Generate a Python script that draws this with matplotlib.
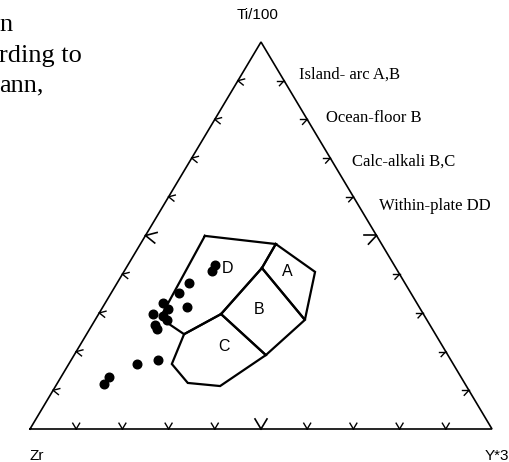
import numpy as np
import matplotlib.pyplot as plt

W, H = 510, 462

# field boundaries (Ti, Zr, Y) in percent
field_a_ti = [47.8, 40.6, 28.2, 41.6]
field_a_zr = [22.9, 18.0, 26.4, 29.0]
field_a_y = [29.3, 41.4, 45.4, 29.4]

field_b_ti = [41.6, 28.2, 19.1, 29.7]
field_b_zr = [29.0, 26.4, 39.4, 43.8]
field_b_y = [29.4, 45.4, 41.5, 26.5]

field_c_ti = [29.7, 19.1, 11.1, 11.9, 16.8, 24.5]
field_c_zr = [43.8, 39.4, 53.3, 59.9, 60.9, 54.4]
field_c_y = [26.5, 41.5, 35.6, 28.2, 22.3, 21.1]

field_d_ti = [49.9, 47.8, 41.6, 29.7, 24.5, 28.7]
field_d_zr = [37.2, 22.9, 29.0, 43.8, 54.4, 57.5]
field_d_y = [12.9, 29.3, 29.4, 26.5, 21.1, 13.8]

# samples
ti = [42.4, 40.8, 37.7, 35.1, 31.5, 32.6, 31.0, 29.7, 29.2, 28.2, 26.9, 25.8,
      17.8, 16.8, 13.4, 11.6]
zr = [38.8, 40.2, 46.7, 50.2, 50.3, 54.9, 54.6, 58.5, 56.6, 56.3, 59.5, 59.6,
      63.4, 68.4, 76.2, 78.2]
yy = [18.8, 19.0, 15.6, 14.7, 18.2, 12.5, 14.4, 11.8, 14.2, 15.5, 13.6, 14.6,
      18.8, 14.8, 10.4, 10.2]

types = ['Island- arc A,B', 'Ocean-floor B', 'Calc-alkali B,C', 'Within-plate DD']


def tern(t, z, y):
    t, z, y = (np.asarray(v, float) for v in (t, z, y))
    s = t + z + y
    t, y = t / s, y / s
    return y + t / 2, t * np.sqrt(3) / 2


def fpos(x, y):
    return x / W, 1 - y / H


fig = plt.figure(figsize=(W / 100, H / 100), dpi=100)
ax = fig.add_axes([30 / W, 33 / H, 462 / W, 387 / H])
ax.set_xlim(0, 1)
ax.set_ylim(0, np.sqrt(3) / 2)
ax.axis('off')

# frame
cx, cy = tern([0, 0, 100, 0], [100, 0, 0, 100], [0, 100, 0, 0])
ax.plot(cx, cy, color='black', lw=1.2, clip_on=False, solid_joinstyle='miter')

# chevron ticks every 10 %
h = np.sqrt(3) / 2
for k in range(1, 10):
    f = k / 10
    big = k == 5
    ln = 0.026 if big else 0.015
    edges = [((f, 0.0), (60, 120)),
             ((f / 2, f * h), (15, -40)),
             ((1 - f / 2, f * h), (180, 228))]
    for (x0, y0), angs in edges:
        for a in angs:
            r = np.radians(a)
            ax.plot([x0, x0 + ln * np.cos(r)], [y0, y0 + ln * np.sin(r)],
                    color='black', lw=1.2 if big else 1.0, clip_on=False)

# discrimination fields
for t, z, y in [(field_a_ti, field_a_zr, field_a_y),
                (field_b_ti, field_b_zr, field_b_y),
                (field_c_ti, field_c_zr, field_c_y),
                (field_d_ti, field_d_zr, field_d_y)]:
    px, py = tern(t + t[:1], z + z[:1], y + y[:1])
    ax.plot(px, py, color='black', lw=1.6, solid_joinstyle='miter')

sx, sy = tern(ti, zr, yy)
ax.plot(sx, sy, 'o', color='black', ms=6.2, ls='none')

for lab, t, z, y in [('A', 40.8, 23.9, 35.3), ('B', 31.0, 35.0, 34.0),
                     ('C', 21.4, 47.4, 31.2), ('D', 41.6, 36.4, 22.0)]:
    lx, ly = tern(t, z, y)
    ax.text(lx, ly, lab, ha='center', va='center', fontsize=11.5,
            family='Liberation Sans', zorder=5)

# apex labels
fig.text(*fpos(258, 15), 'Ti/100', ha='center', va='center', fontsize=11,
         family='Liberation Sans')
fig.text(*fpos(30, 456), 'Zr', ha='left', va='center', fontsize=11,
         family='Liberation Sans')
fig.text(*fpos(485, 456), 'Y*3', ha='left', va='center', fontsize=11,
         family='Liberation Sans')

for i, s in enumerate(types):
    fig.text(*fpos(299 + 26.7 * i, 75 + 43.5 * i), s, ha='left', va='center',
             fontsize=12, family='Liberation Serif')

# running text of the page
for s, y in [('n', 25), ('rding to', 56), ('ann,', 85)]:
    fig.text(*fpos(-1, y), s, ha='left', va='center', fontsize=19,
             family='Liberation Serif')

fig.savefig('out.png', dpi=100)
